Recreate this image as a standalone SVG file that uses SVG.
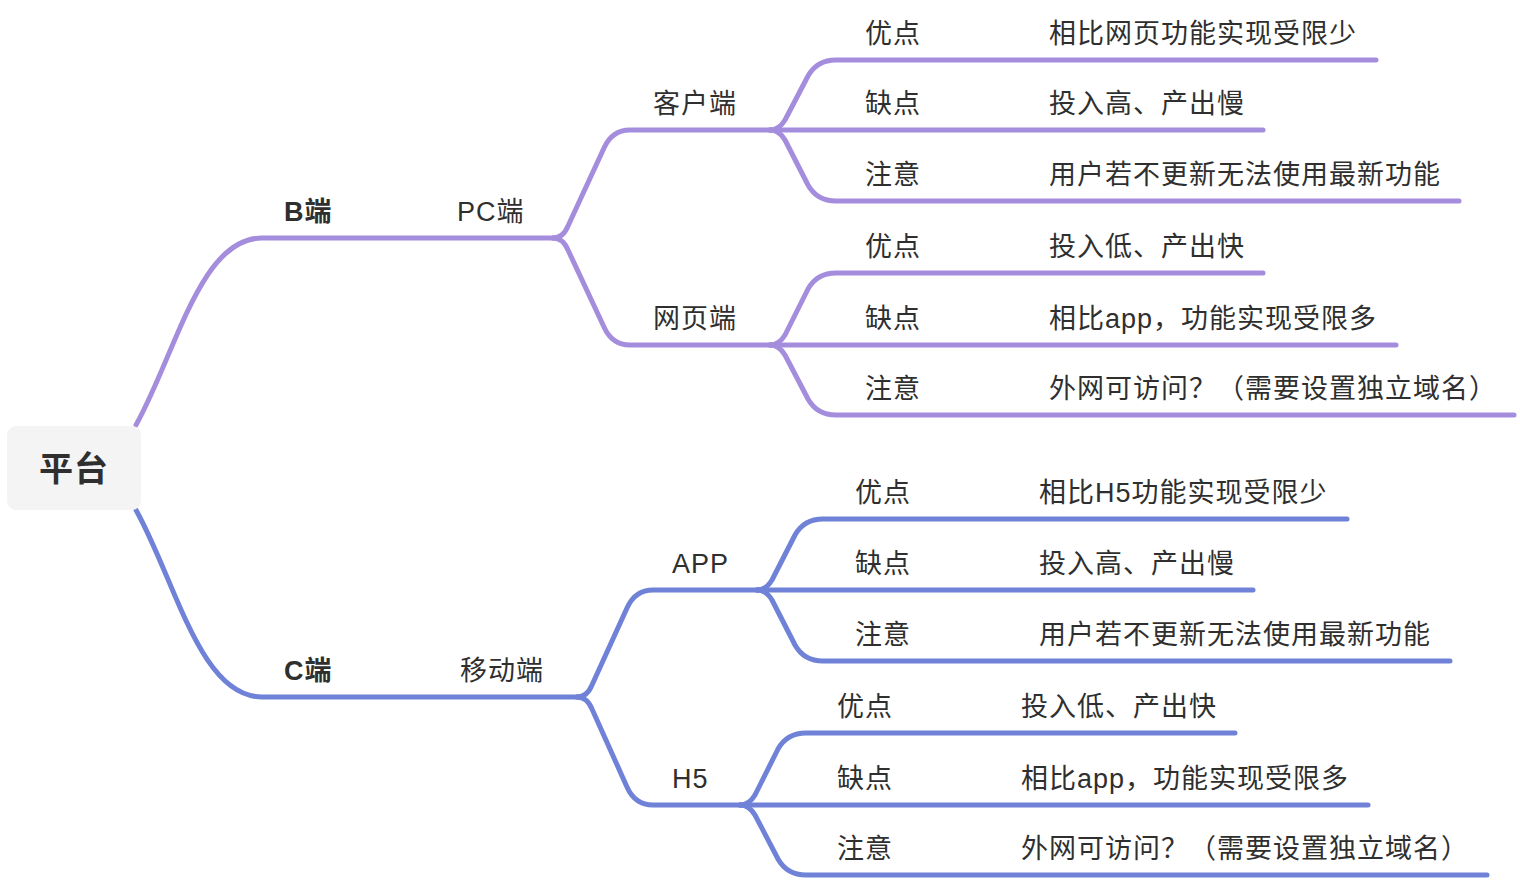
<svg xmlns="http://www.w3.org/2000/svg" width="1520" height="880" viewBox="0 0 1520 880">
<style>
.t{font-family:"Liberation Sans","Noto Sans CJK SC",sans-serif;font-size:27px;letter-spacing:1px;fill:#2f2f2f}
.b{font-weight:bold}
.c{fill:none;stroke-width:5;stroke-linecap:round;stroke-linejoin:round}
.p{stroke:#a58ddd}
.q{stroke:#6f82d8}
</style>
<rect width="1520" height="880" fill="#ffffff"/>
<g id="connectors">
<path class="c p" d="M136,425 C176,353 200,238 262,238 L553,238"/>
<path class="c q" d="M136,510 C176,582 200,697 262,697 L577,697"/>
<path class="c p" d="M553,238 Q563,238 568,226 L604,148 Q612,130 630,130 L770,130"/>
<path class="c p" d="M553,238 Q563,238 568,250 L604,327 Q612,345 630,345 L770,345"/>
<path class="c p" d="M770,130 Q779,130 785,120 L808,76 Q817,60 836,60 L1376,60"/>
<path class="c p" d="M770,130 L1263,130"/>
<path class="c p" d="M770,130 Q779,130 785,140 L808,185 Q817,201 836,201 L1459,201"/>
<path class="c p" d="M770,345 Q779,345 785,335 L808,289 Q817,273 836,273 L1263,273"/>
<path class="c p" d="M770,345 L1396,345"/>
<path class="c p" d="M770,345 Q779,345 785,355 L808,399 Q817,415 836,415 L1514,415"/>
<path class="c q" d="M577,697 Q587,697 592,685 L627,608 Q635,590 653,590 L757,590"/>
<path class="c q" d="M577,697 Q587,697 592,709 L627,787 Q635,805 653,805 L740,805"/>
<path class="c q" d="M757,590 Q766,590 772,580 L795,535 Q804,519 823,519 L1347,519"/>
<path class="c q" d="M757,590 L1253,590"/>
<path class="c q" d="M757,590 Q766,590 772,600 L795,645 Q804,661 823,661 L1450,661"/>
<path class="c q" d="M740,805 Q749,805 755,795 L778,749 Q787,733 806,733 L1235,733"/>
<path class="c q" d="M740,805 L1368,805"/>
<path class="c q" d="M740,805 Q749,805 755,815 L778,859 Q787,875 806,875 L1487,875"/>
</g>
<g id="root">
<rect x="7" y="426" width="134" height="84" rx="9" fill="#f4f4f4"/>
<text class="t b" x="74" y="481" text-anchor="middle" style="font-size:34px;letter-spacing:1px">平台</text>
</g>
<g id="b"><text class="t b" x="284" y="221">B端</text></g>
<g id="pc"><text class="t" x="457" y="221">PC端</text></g>
<g id="client"><text class="t" x="653" y="113">客户端</text></g>
<g id="client-pro"><text class="t" x="865" y="43">优点</text><text class="t" x="1049" y="43">相比网页功能实现受限少</text></g>
<g id="client-con"><text class="t" x="865" y="113">缺点</text><text class="t" x="1049" y="113">投入高、产出慢</text></g>
<g id="client-note"><text class="t" x="865" y="184">注意</text><text class="t" x="1049" y="184">用户若不更新无法使用最新功能</text></g>
<g id="web"><text class="t" x="653" y="328">网页端</text></g>
<g id="web-pro"><text class="t" x="865" y="256">优点</text><text class="t" x="1049" y="256">投入低、产出快</text></g>
<g id="web-con"><text class="t" x="865" y="328">缺点</text><text class="t" x="1049" y="328">相比app，功能实现受限多</text></g>
<g id="web-note"><text class="t" x="865" y="398">注意</text><text class="t" x="1049" y="398">外网可访问？（需要设置独立域名）</text></g>
<g id="c"><text class="t b" x="284" y="680">C端</text></g>
<g id="mobile"><text class="t" x="460" y="680">移动端</text></g>
<g id="app"><text class="t" x="672" y="573">APP</text></g>
<g id="app-pro"><text class="t" x="855" y="502">优点</text><text class="t" x="1039" y="502">相比H5功能实现受限少</text></g>
<g id="app-con"><text class="t" x="855" y="573">缺点</text><text class="t" x="1039" y="573">投入高、产出慢</text></g>
<g id="app-note"><text class="t" x="855" y="644">注意</text><text class="t" x="1039" y="644">用户若不更新无法使用最新功能</text></g>
<g id="h5"><text class="t" x="672" y="788">H5</text></g>
<g id="h5-pro"><text class="t" x="837" y="716">优点</text><text class="t" x="1021" y="716">投入低、产出快</text></g>
<g id="h5-con"><text class="t" x="837" y="788">缺点</text><text class="t" x="1021" y="788">相比app，功能实现受限多</text></g>
<g id="h5-note"><text class="t" x="837" y="858">注意</text><text class="t" x="1021" y="858">外网可访问？（需要设置独立域名）</text></g>
</svg>
